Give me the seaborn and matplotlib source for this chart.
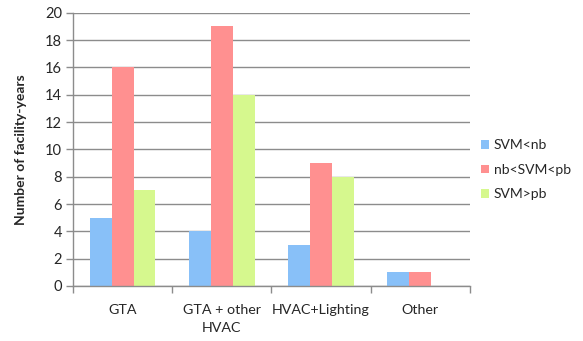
import pandas as pd
import matplotlib.pyplot as plt
import seaborn as sns

# Data
categories = ["GTA", "GTA + other\nHVAC", "HVAC+Lighting", "Other"]
series = ["SVM<nb", "nb<SVM<pb", "SVM>pb"]
svm_lt_nb = [5, 4, 3, 1]
nb_svm_pb = [16, 19, 9, 1]
svm_gt_pb = [7, 14, 8, 0]
colors = ["#88C0F8", "#FF9090", "#D6F88E"]

df = pd.DataFrame({
    "category": categories * 3,
    "series": [series[0]] * 4 + [series[1]] * 4 + [series[2]] * 4,
    "value": svm_lt_nb + nb_svm_pb + svm_gt_pb,
})

sns.set_style("white")
plt.rcParams["font.family"] = ["Lato", "DejaVu Sans"]

fig = plt.figure(figsize=(5.83, 3.41), dpi=100)
ax = fig.add_axes([0.1252, 0.1613, 0.6808, 0.8015])

sns.barplot(
    data=df,
    x="category",
    y="value",
    hue="series",
    order=categories,
    hue_order=series,
    palette=colors,
    width=0.663,
    saturation=1,
    linewidth=0,
    ax=ax,
)

ax.set_xlim(-0.5, 3.5)
ax.set_ylim(0, 20)
ax.set_yticks(range(0, 21, 2))
ax.yaxis.grid(True, color="#8c8c8c", linewidth=1)
ax.set_axisbelow(True)

for side in ["top", "right"]:
    ax.spines[side].set_visible(False)
for side in ["left", "bottom"]:
    ax.spines[side].set_color("#8c8c8c")
    ax.spines[side].set_linewidth(1)

# category separators as tick marks
ax.set_xticks([-0.5, 0.5, 1.5, 2.5, 3.5], minor=True)
ax.tick_params(axis="x", which="minor", length=5, color="#8c8c8c", width=1, bottom=True)
ax.tick_params(axis="x", which="major", length=0, pad=13, labelsize=10.3)
ax.tick_params(axis="y", length=5, color="#8c8c8c", width=1, left=True, labelsize=10.5, pad=3)
for lbl in ax.get_xticklabels():
    lbl.set_verticalalignment("top")
    lbl.set_linespacing(1.6)

ax.set_xlabel("")
ax.set_ylabel("Number of facility-years", fontsize=10, fontweight="bold", labelpad=13)

ax.legend(
    loc="center left",
    bbox_to_anchor=(1.0, 0.425),
    frameon=False,
    fontsize=10,
    handlelength=0.6,
    handleheight=0.6,
    handletextpad=0.3,
    labelspacing=0.9,
    borderaxespad=0.4,
)

fig.savefig("out.png", dpi=100)
